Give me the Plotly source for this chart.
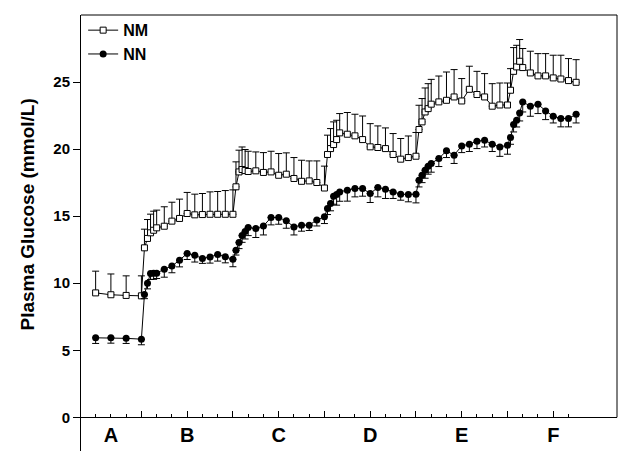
import plotly.graph_objects as go

# sampling times (min); one x-axis tick every 10 min
time_min = [0, 10, 20, 30,
            32, 34, 36, 38, 40, 45, 50, 55, 60, 65, 70, 75, 80, 85, 90,
            92, 94, 96, 98, 100, 105, 110, 115, 120, 125, 130, 135, 140, 145, 150,
            152, 154, 156, 158, 160, 165, 170, 175, 180, 185, 190, 195, 200, 205, 210,
            212, 214, 216, 218, 220, 225, 230, 235, 240, 245, 250, 255, 260, 265, 270,
            272, 274, 276, 278, 280, 285, 290, 295, 300, 305, 310, 315]

nm_mean = [9.28, 9.14, 9.09, 9.06,
           12.64, 13.34, 13.76, 13.95, 14.13, 14.25, 14.63, 14.83, 15.2, 15.1, 15.12, 15.14, 15.14, 15.14, 15.14,
           17.19, 18.3, 18.48, 18.4, 18.33, 18.38, 18.26, 18.3, 18.05, 18.13, 17.81, 17.6, 17.63, 17.51, 17.1,
           19.6, 20.04, 20.34, 20.71, 21.21, 21.11, 20.99, 20.71, 20.17, 20.12, 20.04, 19.6, 19.25, 19.37, 19.47,
           21.46, 22.03, 22.77, 23.02, 23.35, 23.52, 23.64, 23.89, 23.59, 24.46, 24.07, 23.89, 23.2, 23.29, 23.29,
           24.39, 25.8, 26.13, 26.55, 26.08, 25.68, 25.46, 25.46, 25.31, 25.23, 25.11, 24.98]

nm_se = [1.62, 1.55, 1.46, 1.49,
         1.39, 1.41, 1.39, 1.42, 1.32, 1.45, 1.41, 1.44, 1.57, 1.54, 1.57, 1.67, 1.70, 1.77, 1.82,
         1.86, 1.62, 1.68, 1.57, 1.51, 1.41, 1.48, 1.54, 1.62, 1.59, 1.56, 1.57, 1.49, 1.61, 1.63,
         1.44, 1.49, 1.69, 1.44, 1.44, 1.62, 1.61, 1.76, 1.73, 1.61, 1.54, 1.56, 1.54, 1.61, 1.77,
         1.81, 1.74, 1.79, 1.86, 1.85, 1.93, 2.11, 2.04, 1.67, 1.72, 1.73, 1.74, 1.68, 1.64, 1.64,
         1.61, 1.77, 1.61, 1.62, 1.42, 1.62, 1.66, 1.66, 1.69, 1.77, 1.64, 1.69]

nn_mean = [5.93, 5.93, 5.89, 5.83,
           9.15, 10.0, 10.73, 10.74, 10.75, 11.05, 11.28, 11.72, 12.22, 12.08, 11.85, 11.95, 12.15, 11.97, 11.78,
           12.45, 13.03, 13.55, 13.85, 14.15, 14.08, 14.27, 14.9, 14.9, 14.65, 14.2, 14.33, 14.33, 14.72, 14.95,
           15.57, 15.95, 16.49, 16.62, 16.81, 16.94, 17.06, 17.06, 16.69, 17.14, 17.01, 16.81, 16.64, 16.62, 16.64,
           17.68, 18.05, 18.43, 18.73, 18.93, 19.3, 19.87, 19.55, 20.24, 20.37, 20.59, 20.66, 20.37, 20.16, 20.29,
           20.86, 21.83, 22.15, 22.7, 23.52, 23.2, 23.35, 22.85, 22.45, 22.28, 22.28, 22.6]

nn_se = [0.42, 0.40, 0.38, 0.42,
         0.30, 0.42, 0.45, 0.45, 0.40, 0.60, 0.50, 0.50, 0.45, 0.50, 0.37, 0.45, 0.50, 0.45, 0.55,
         0.35, 0.45, 0.50, 0.55, 0.60, 0.67, 0.67, 0.55, 0.50, 0.55, 0.60, 0.45, 0.40, 0.45, 0.50,
         0.45, 0.55, 0.60, 0.80, 0.70, 0.82, 0.62, 0.57, 0.67, 0.70, 0.69, 0.49, 0.45, 0.55, 0.65,
         0.50, 0.55, 0.60, 0.60, 0.65, 0.60, 0.50, 0.62, 0.50, 0.55, 0.55, 0.50, 0.55, 0.70, 0.67,
         0.50, 0.55, 0.50, 0.60, 0.75, 0.75, 0.70, 0.65, 0.50, 0.62, 0.62, 0.65]

# study periods
period_labels = ['A', 'B', 'C', 'D', 'E', 'F']
period_label_pos = [10, 60, 120, 180, 240, 300]

minor_ticks = list(range(0, 320, 10))
major_ticks = list(range(30, 320, 30))
y_ticks = [0, 5, 10, 15, 20, 25]

bold = dict(family='Liberation Sans, Arial, sans-serif', color='black', weight='bold')

fig = go.Figure()

fig.add_trace(go.Scatter(
    x=time_min, y=nm_mean, name='NM', mode='lines+markers',
    line=dict(color='black', width=1),
    marker=dict(symbol='square', size=6, color='white', line=dict(color='black', width=1)),
    error_y=dict(type='data', symmetric=False, array=nm_se, arrayminus=[0] * len(nm_se),
                 color='black', thickness=1, width=3.5)))

# NN sits on the overlaid x axis that carries the tick marks
fig.add_trace(go.Scatter(
    x=time_min, y=nn_mean, name='NN', mode='lines+markers', xaxis='x2',
    line=dict(color='black', width=1),
    marker=dict(symbol='circle', size=7, color='black'),
    error_y=dict(type='data', symmetric=False, array=[0] * len(nn_se), arrayminus=nn_se,
                 color='black', thickness=1, width=3.5)))

x_range = [-9.6, 341.8]
y_range = [-2.51, 30]
x0_pos = -y_range[0] / (y_range[1] - y_range[0])   # paper position of y = 0

# page body adds an 8px offset, so the figure is 8px smaller than the window
fig.update_layout(
    width=618, height=443,
    margin=dict(l=73, r=9, t=7, b=0),
    paper_bgcolor='white', plot_bgcolor='white',
    showlegend=True,
    legend=dict(x=0.004, y=1.004, xanchor='left', yanchor='top',
                bgcolor='rgba(0,0,0,0)', font=dict(size=16, **bold),
                tracegroupgap=0),
    xaxis=dict(range=x_range, anchor='free', position=x0_pos,
               showline=True, linecolor='black', linewidth=1,
               tickmode='array', tickvals=period_label_pos, ticktext=period_labels,
               ticks='', tickfont=dict(size=20, **bold),
               showgrid=False, zeroline=False),
    xaxis2=dict(range=x_range, overlaying='x', anchor='free', position=x0_pos,
                showline=False, showticklabels=False,
                tickmode='array', tickvals=major_ticks,
                ticks='inside', ticklen=6, tickcolor='black', tickwidth=1,
                minor=dict(tickmode='array', tickvals=minor_ticks, ticks='inside',
                           ticklen=3, tickcolor='black', tickwidth=1),
                showgrid=False, zeroline=False),
    yaxis=dict(range=y_range, tickmode='array', tickvals=y_ticks,
               showline=True, linecolor='black', linewidth=1,
               ticks='outside', ticklen=7, tickcolor='black',
               tickfont=dict(size=15, **bold),
               showgrid=False, zeroline=False),
    shapes=[
        dict(type='line', xref='paper', yref='paper', x0=0, x1=1, y0=1, y1=1,
             line=dict(color='black', width=1)),
        dict(type='line', xref='paper', yref='paper', x0=1, x1=1, y0=x0_pos, y1=1,
             line=dict(color='black', width=1)),
    ],
    annotations=[
        dict(text='Plasma Glucose (mmol/L)', textangle=-90, showarrow=False,
             xref='paper', yref='paper', x=-0.1007, y=0.5424,
             xanchor='center', yanchor='middle', font=dict(size=19, **bold)),
    ],
)

fig.write_html('out.html')
